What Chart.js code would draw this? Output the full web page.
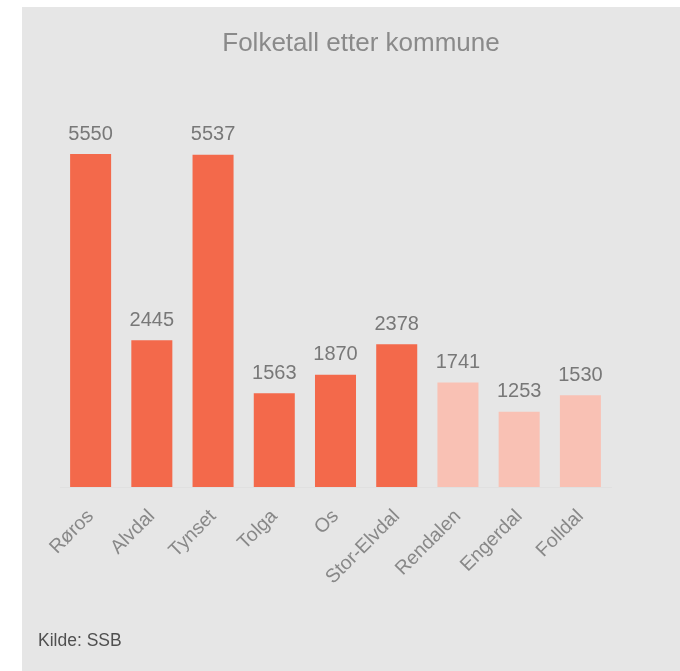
<!DOCTYPE html>
<html>
<head>
<meta charset="utf-8">
<script src="https://cdn.jsdelivr.net/npm/chart.js@4/dist/chart.umd.min.js"></script>
<style>
  html, body { margin: 0; padding: 0; background: #ffffff; }
  #wrap { width: 680px; height: 671px; }
</style>
</head>
<body>
<div id="wrap"><canvas id="c" width="680" height="671"></canvas></div>
<script>
const categories = ['Røros', 'Alvdal', 'Tynset', 'Tolga', 'Os', 'Stor-Elvdal', 'Rendalen', 'Engerdal', 'Folldal'];
const population = [5550, 2445, 5537, 1563, 1870, 2378, 1741, 1253, 1530];
const highlighted = [true, true, true, true, true, true, false, false, false];
const titleText = 'Folketall etter kommune';
const sourceText = 'Kilde: SSB';

const FONT = '"Liberation Sans", Arial, Helvetica, sans-serif';
const DARK = '#f3694b';
const LIGHT = '#f9c1b4';

const backgroundPlugin = {
  id: 'bg',
  beforeDraw(chart) {
    const ctx = chart.ctx;
    ctx.save();
    ctx.fillStyle = '#ffffff';
    ctx.fillRect(0, 0, chart.width, chart.height);
    ctx.fillStyle = '#e6e6e6';
    ctx.fillRect(22, 7, chart.width - 22, chart.height - 7);
    ctx.restore();
  },
  afterDraw(chart) {
    const ctx = chart.ctx;
    ctx.save();
    ctx.textAlign = 'center';
    ctx.textBaseline = 'alphabetic';
    ctx.fillStyle = '#8a8a8a';
    ctx.font = '26px ' + FONT;
    ctx.fillText(titleText, 361, 51);
    ctx.textAlign = 'left';
    ctx.fillStyle = '#505050';
    ctx.font = '17.5px ' + FONT;
    ctx.fillText(sourceText, 38, 646);
    ctx.restore();
  }
};

const valueLabels = {
  id: 'valueLabels',
  afterDatasetsDraw(chart) {
    const ctx = chart.ctx;
    const meta = chart.getDatasetMeta(0);
    ctx.save();
    ctx.textAlign = 'center';
    ctx.textBaseline = 'alphabetic';
    ctx.fillStyle = '#787878';
    ctx.font = '20px ' + FONT;
    meta.data.forEach((bar, i) => {
      ctx.fillText(String(chart.data.datasets[0].data[i]), bar.x, bar.y - 14.5);
    });
    ctx.restore();
  }
};

new Chart(document.getElementById('c'), {
  type: 'bar',
  data: {
    labels: categories,
    datasets: [{
      data: population,
      backgroundColor: highlighted.map(h => h ? DARK : LIGHT),
      borderWidth: 0,
      barPercentage: 0.67,
      categoryPercentage: 1.0
    }]
  },
  options: {
    responsive: false,
    animation: false,
    devicePixelRatio: 1,
    layout: { padding: { left: 60, right: 69, top: 127, bottom: 84 } },
    plugins: {
      legend: { display: false },
      title: { display: false },
      tooltip: { enabled: false }
    },
    scales: {
      x: {
        grid: { display: false, drawTicks: false },
        border: { display: true, color: '#e0e0e0', width: 1 },
        ticks: {
          color: '#888888',
          font: { family: FONT, size: 19.5 },
          maxRotation: 45,
          minRotation: 45,
          padding: 18,
          autoSkip: false
        },
        afterFit(scale) { scale.height = 100; }
      },
      y: {
        display: false,
        min: 0,
        max: 6000
      }
    }
  },
  plugins: [backgroundPlugin, valueLabels]
});
</script>
</body>
</html>
